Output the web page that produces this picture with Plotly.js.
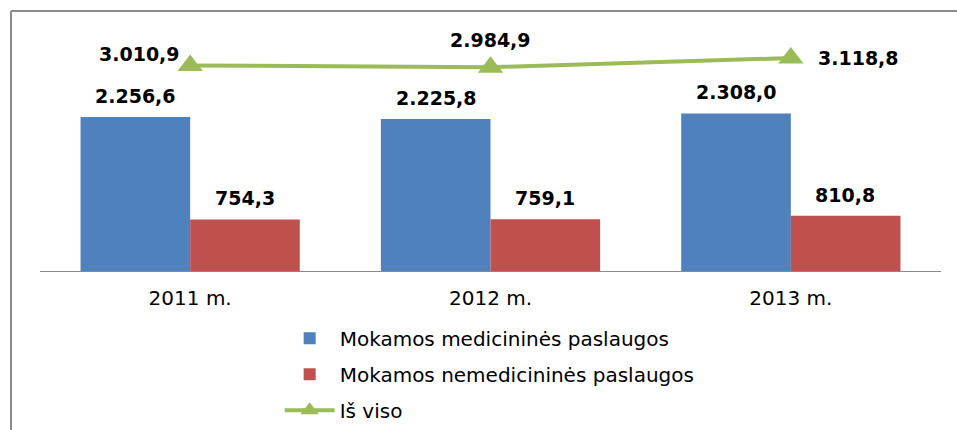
<!DOCTYPE html>
<html>
<head>
<meta charset="utf-8">
<script src="https://cdn.plot.ly/plotly-3.0.1.min.js"></script>
<style>
  html, body { margin: 0; padding: 0; background: #fff; overflow: hidden; width: 957px; height: 430px; }
  #chart { width: 957px; height: 430px; }
</style>
</head>
<body>
<div id="chart"></div>
<script>
// ---- data ----
const years = ['2011 m.', '2012 m.', '2013 m.'];
const medical = [2256.6, 2225.8, 2308.0];
const nonMedical = [754.3, 759.1, 810.8];
const total = [3010.9, 2984.9, 3118.8];
const seriesNames = ['Mokamos medicininės paslaugos', 'Mokamos nemedicininės paslaugos', 'Iš viso'];

// ---- style ----
const colors = ['#4F81BD', '#C0504D', '#9BBB59'];
const labelFont = { family: 'DejaVu Sans', size: 19, color: '#000', weight: 'bold' };
const textFont = { family: 'DejaVu Sans', size: 20, color: '#000' };
const barShift = 54.5;
const totalLabelPos = [
  { xanchor: 'right', yanchor: 'middle', xshift: -8, yshift: 11 },
  { xanchor: 'center', yanchor: 'bottom', xshift: 0, yshift: 14 },
  { xanchor: 'left', yanchor: 'middle', xshift: 25, yshift: 0 }
];

function fmt(v) {
  const s = v.toFixed(1);
  let [i, d] = s.split('.');
  i = i.replace(/\B(?=(\d{3})+(?!\d))/g, '.');
  return i + ',' + d;
}

const traces = [
  { type: 'bar', name: seriesNames[0], x: years, y: medical, marker: { color: colors[0] },
    legendgroup: 'a', hoverinfo: 'none' },
  { type: 'bar', name: seriesNames[1], x: years, y: nonMedical, marker: { color: colors[1] },
    legendgroup: 'b', hoverinfo: 'none' },
  { type: 'scatter', mode: 'lines+markers', name: seriesNames[2], x: years, y: total,
    line: { color: colors[2], width: 4 },
    marker: { symbol: 'triangle-up', size: 22, color: colors[2] },
    legendgroup: 'c', hoverinfo: 'none' }
];

const annotations = [];
years.forEach((yr, i) => {
  annotations.push({ x: yr, y: medical[i], text: fmt(medical[i]), showarrow: false,
    xanchor: 'center', yanchor: 'bottom', xshift: -barShift, yshift: 8, font: labelFont });
  annotations.push({ x: yr, y: nonMedical[i], text: fmt(nonMedical[i]), showarrow: false,
    xanchor: 'center', yanchor: 'bottom', xshift: barShift, yshift: 8, font: labelFont });
  annotations.push(Object.assign({ x: yr, y: total[i], text: fmt(total[i]), showarrow: false,
    font: labelFont }, totalLabelPos[i]));
});

// outer frame (left and top edges only, as in the source)
const shapes = [
  { type: 'line', xref: 'paper', yref: 'paper', x0: -0.0322, x1: -0.0322, y0: -0.8, y1: 1.0879,
    line: { color: '#8a8a8a', width: 2 } },
  { type: 'line', xref: 'paper', yref: 'paper', x0: -0.0322, x1: 1.03, y0: 1.0879, y1: 1.0879,
    line: { color: '#8a8a8a', width: 2 } }
];

const layout = {
  width: 957, height: 430,
  paper_bgcolor: '#fff', plot_bgcolor: 'rgba(0,0,0,0)',
  margin: { l: 40, r: 16, t: 32, b: 159, autoexpand: false },
  barmode: 'group', bargap: 0.27, bargroupgap: 0,
  font: textFont,
  xaxis: { type: 'category', showline: true, linecolor: '#8a8a8a', linewidth: 1,
           ticks: '', ticklabelstandoff: 9, showgrid: false, zeroline: false, automargin: false,
           tickfont: textFont, fixedrange: true },
  yaxis: { range: [0, 3500], visible: false, showgrid: false, zeroline: false, fixedrange: true },
  showlegend: true,
  legend: { orientation: 'v', x: 0.266, xanchor: 'left', y: -0.2, yanchor: 'top',
            traceorder: 'grouped', tracegroupgap: 7, itemwidth: 50,
            font: textFont, bgcolor: 'rgba(0,0,0,0)' },
  shapes: shapes,
  annotations: annotations
};

Plotly.newPlot('chart', traces, layout, { displayModeBar: false, staticPlot: true });
</script>
</body>
</html>
